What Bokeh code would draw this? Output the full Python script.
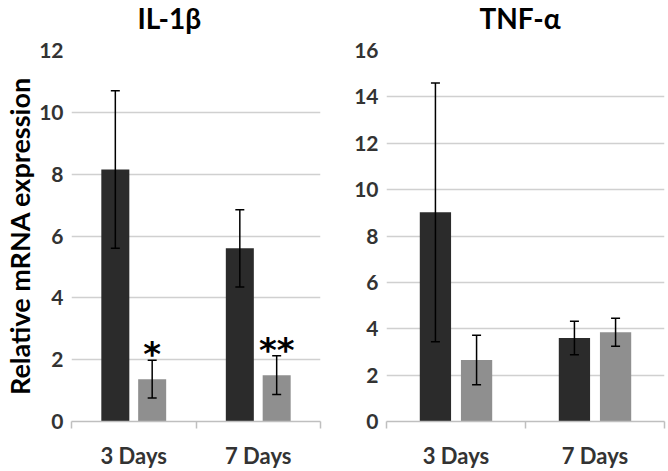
from bokeh.core.properties import value
from bokeh.embed import file_html
from bokeh.layouts import row
from bokeh.models import ColumnDataSource, FixedTicker, Range1d, TeeHead, Title, Whisker
from bokeh.plotting import figure
from bokeh.resources import INLINE

# data
days = ["3 Days", "7 Days"]

il1b_dark = [8.15, 5.6]
il1b_dark_err = [2.55, 1.25]
il1b_gray = [1.37, 1.5]
il1b_gray_err = [0.61, 0.63]
il1b_marks = ["*", "**"]

tnf_dark = [9.02, 3.6]
tnf_dark_err = [5.58, 0.72]
tnf_gray = [2.65, 3.85]
tnf_gray_err = [1.07, 0.6]

FONT = "Lato"
DARK = "#2b2b2b"
GRAY = "#8f8f8f"


def make_panel(title, dark, dark_err, gray, gray_err, ymax, border_left,
               border_right, title_offset, ylabel=None, marks=None):
    p = figure(width=334, height=471, output_backend="svg", toolbar_location=None,
               x_range=Range1d(0, len(days)), y_range=Range1d(0, ymax),
               min_border_left=border_left, min_border_right=border_right,
               min_border_top=49, min_border_bottom=47)
    p.outline_line_color = None

    centers = [i + 0.5 for i in range(len(days))]
    x_dark = [c - 0.148 for c in centers]
    x_gray = [c + 0.148 for c in centers]

    dark_src = ColumnDataSource(dict(x=x_dark, top=dark,
                                     upper=[v + e for v, e in zip(dark, dark_err)],
                                     lower=[v - e for v, e in zip(dark, dark_err)]))
    gray_src = ColumnDataSource(dict(x=x_gray, top=gray,
                                     upper=[v + e for v, e in zip(gray, gray_err)],
                                     lower=[v - e for v, e in zip(gray, gray_err)]))

    p.vbar(x="x", top="top", width=0.225, source=dark_src, fill_color=DARK, line_color=None)
    p.vbar(x="x", top="top", width=0.225, source=gray_src, fill_color=GRAY, line_color=None)

    for src in (dark_src, gray_src):
        w = Whisker(base="x", upper="upper", lower="lower", source=src, level="annotation",
                    line_color="black", line_width=1.5,
                    upper_head=TeeHead(size=9, line_color="black", line_width=1.5),
                    lower_head=TeeHead(size=9, line_color="black", line_width=1.5))
        p.add_layout(w)

    if marks:
        mark_src = ColumnDataSource(dict(x=x_gray, y=gray_src.data["upper"], mark=marks))
        p.text(x="x", y="y", text="mark", source=mark_src, text_font=value("DejaVu Sans"),
               text_font_style="bold", text_font_size="34px", text_align="center",
               text_baseline="alphabetic", y_offset=-6, text_color="black")

    # title, pushed up by an empty spacer panel between it and the frame
    p.title.text = title
    p.title.align = "left"
    p.title.vertical_align = "top"
    p.title.offset = title_offset
    p.title.standoff = 0
    p.title.text_font = FONT
    p.title.text_font_size = "28px"
    p.title.text_font_style = "bold"
    p.title.text_color = "black"
    p.add_layout(Title(text=" ", text_font_size="11px", standoff=0), "above")

    # x axis: labels at category centres, ticks at category boundaries
    xa = p.xaxis[0]
    xa.ticker = FixedTicker(ticks=centers, minor_ticks=list(range(len(days) + 1)))
    xa.major_label_overrides = {c: d for c, d in zip(centers, days)}
    xa.major_label_standoff = 13
    xa.major_label_text_font = FONT
    xa.major_label_text_font_size = "22px"
    xa.major_label_text_font_style = "bold"
    xa.major_label_text_color = "#333333"
    xa.axis_line_color = "#bfbfbf"
    xa.axis_line_width = 1.5
    xa.major_tick_line_color = None
    xa.major_tick_out = 0
    xa.minor_tick_line_color = "#bfbfbf"
    xa.minor_tick_line_width = 1.5
    xa.minor_tick_in = 0
    xa.minor_tick_out = 7

    ya = p.yaxis[0]
    ya.ticker = FixedTicker(ticks=list(range(0, ymax + 1, 2)))
    ya.axis_line_color = None
    ya.major_tick_line_color = None
    ya.minor_tick_line_color = None
    ya.major_tick_out = 0
    ya.major_label_standoff = 8
    ya.major_label_text_font = FONT
    ya.major_label_text_font_size = "21px"
    ya.major_label_text_font_style = "bold"
    ya.major_label_text_color = "#333333"
    if ylabel:
        ya.axis_label = ylabel
        ya.axis_label_standoff = 0
        ya.axis_label_text_font = FONT
        ya.axis_label_text_font_size = "27px"
        ya.axis_label_text_font_style = "bold"
        ya.axis_label_text_color = "black"

    p.xgrid.grid_line_color = None
    p.ygrid.grid_line_color = "#d0d0d0"
    p.ygrid.grid_line_width = 1.5
    return p


left = make_panel("IL-1β", il1b_dark, il1b_dark_err, il1b_gray, il1b_gray_err, 12,
                  71, 14, 66, ylabel="Relative mRNA expression", marks=il1b_marks)
right = make_panel("TNF-α", tnf_dark, tnf_dark_err, tnf_gray, tnf_gray_err, 16,
                   52, 4, 93)

layout = row(left, right)
open("out.html", "w").write(file_html(layout, INLINE))
